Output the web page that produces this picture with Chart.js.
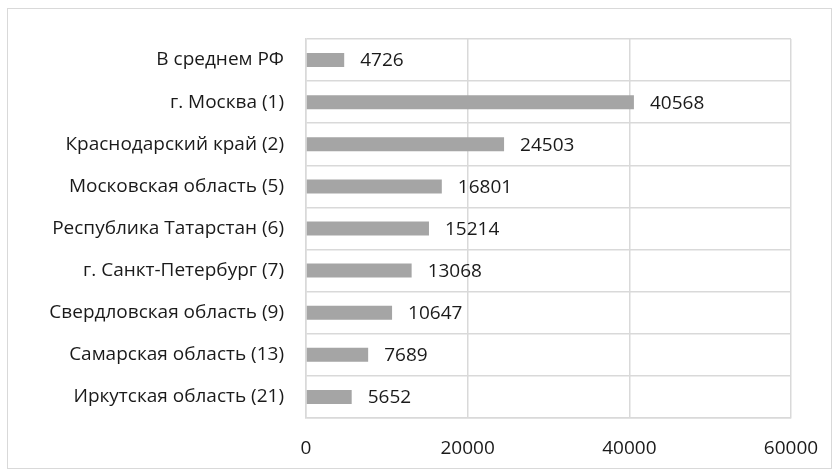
<!DOCTYPE html>
<html>
<head>
<meta charset="utf-8">
<script src="https://cdn.jsdelivr.net/npm/chart.js@4/dist/chart.umd.min.js"></script>
<style>
  html, body { margin: 0; padding: 0; background: #fff; }
  #frame { position: absolute; left: 7px; top: 8px; width: 823px; height: 459px; border: 1px solid #d9d9d9; }
  #chart { position: absolute; left: 0; top: 0; }
</style>
</head>
<body>
<div id="frame"></div>
<canvas id="chart" width="840" height="475"></canvas>
<script>
const regions = [
  'В среднем РФ',
  'г. Москва (1)',
  'Краснодарский край (2)',
  'Московская область (5)',
  'Республика Татарстан (6)',
  'г. Санкт-Петербург (7)',
  'Свердловская область (9)',
  'Самарская область (13)',
  'Иркутская область (21)'
];
const values = [4726, 40568, 24503, 16801, 15214, 13068, 10647, 7689, 5652];
const xTicks = [0, 20000, 40000, 60000];

const fontFamily = '"Open Sans", Lato, sans-serif';
const fontSize = 19;

// value labels right of each bar
const barLabels = {
  id: 'barLabels',
  afterDatasetsDraw(chart) {
    const ctx = chart.ctx;
    const meta = chart.getDatasetMeta(0);
    ctx.save();
    ctx.font = fontSize + 'px ' + fontFamily;
    ctx.fillStyle = '#1a1a1a';
    ctx.textAlign = 'left';
    ctx.textBaseline = 'middle';
    meta.data.forEach((bar, i) => {
      ctx.fillText(String(values[i]), bar.x + 16, bar.y + 1);
    });
    ctx.restore();
  }
};

new Chart(document.getElementById('chart'), {
  type: 'bar',
  data: {
    labels: regions,
    datasets: [{
      data: values,
      backgroundColor: '#a5a5a5',
      barPercentage: 0.333,
      categoryPercentage: 1
    }]
  },
  options: {
    indexAxis: 'y',
    responsive: false,
    animation: false,
    layout: { padding: { top: 39, right: 49, left: 0, bottom: 0 } },
    plugins: { legend: { display: false }, tooltip: { enabled: false } },
    scales: {
      x: {
        min: 0,
        max: 60000,
        afterBuildTicks(scale) { scale.ticks = xTicks.map(v => ({ value: v })); },
        afterFit(scale) { scale.height = 57; },
        grid: { color: '#d9d9d9', lineWidth: 1.5, drawTicks: false },
        border: { color: '#d9d9d9', width: 1.5 },
        ticks: {
          padding: 19,
          color: '#1a1a1a',
          font: { family: fontFamily, size: fontSize },
          callback: (v) => String(v)
        }
      },
      y: {
        afterFit(scale) { scale.width = 306; },
        grid: { color: '#d9d9d9', lineWidth: 1.5, drawTicks: false, offset: true },
        border: { color: '#d9d9d9', width: 1.5 },
        ticks: { padding: 22, color: '#1a1a1a', font: { family: fontFamily, size: fontSize } }
      }
    }
  },
  plugins: [barLabels]
});
</script>
</body>
</html>
